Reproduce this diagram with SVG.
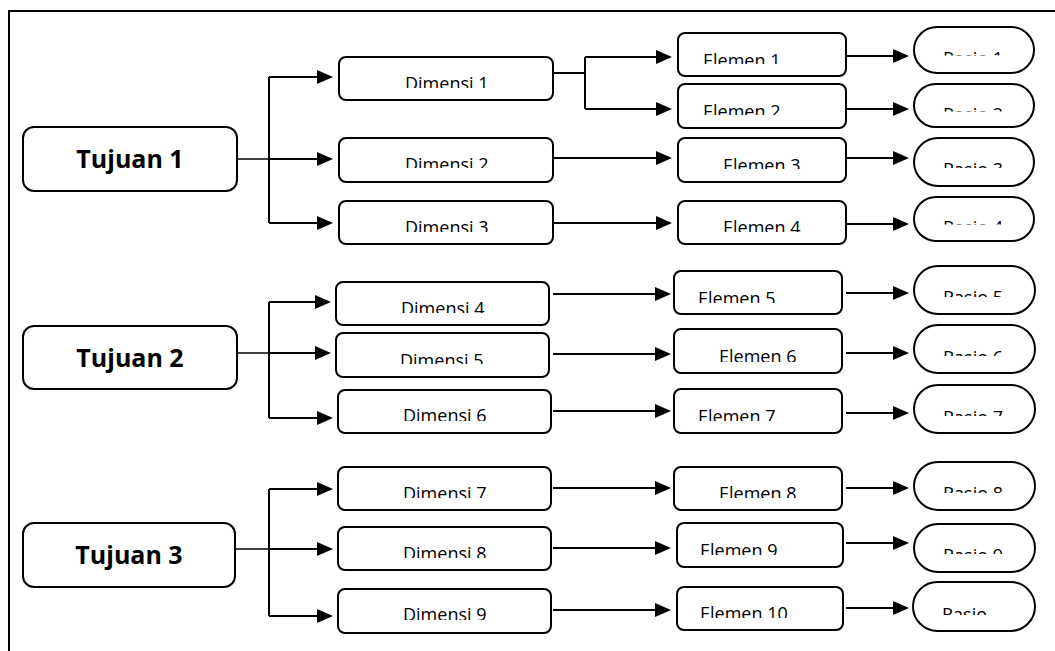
<svg xmlns="http://www.w3.org/2000/svg" width="1055" height="651" viewBox="0 0 1055 651">
<style>
.box{fill:#fff;stroke:#000;stroke-width:2}
.t{font-family:"Open Sans","DejaVu Sans",sans-serif;font-size:18px;fill:#000}
.tb{font-family:"Open Sans","DejaVu Sans",sans-serif;font-size:25px;font-weight:bold;fill:#000;text-anchor:middle}
.c{fill:none;stroke:#000;stroke-width:2}
.c1{fill:none;stroke:#000;stroke-width:1.5}
.a{fill:none;stroke:#000;stroke-width:2;marker-end:url(#ah)}
</style>
<defs>
<marker id="ah" markerUnits="userSpaceOnUse" markerWidth="16" markerHeight="14" refX="14" refY="7" orient="auto"><path d="M0,0 L16,7 L0,14 z" fill="#000"/></marker>
<clipPath id="cD1"><rect x="339" y="57" width="214" height="31"/></clipPath>
<clipPath id="cD2"><rect x="339" y="138" width="214" height="30"/></clipPath>
<clipPath id="cD3"><rect x="339" y="201" width="214" height="31"/></clipPath>
<clipPath id="cD4"><rect x="336" y="282" width="213" height="31"/></clipPath>
<clipPath id="cD5"><rect x="336" y="333" width="213" height="31"/></clipPath>
<clipPath id="cD6"><rect x="338" y="390" width="213" height="31"/></clipPath>
<clipPath id="cD7"><rect x="338" y="467" width="213" height="31"/></clipPath>
<clipPath id="cD8"><rect x="338" y="527" width="213" height="31"/></clipPath>
<clipPath id="cD9"><rect x="338" y="589" width="213" height="31"/></clipPath>
<clipPath id="cE1"><rect x="678" y="33" width="168" height="31"/></clipPath>
<clipPath id="cE2"><rect x="678" y="84" width="168" height="31"/></clipPath>
<clipPath id="cE3"><rect x="678" y="138" width="168" height="31"/></clipPath>
<clipPath id="cE4"><rect x="678" y="201" width="168" height="31"/></clipPath>
<clipPath id="cE5"><rect x="674" y="271" width="168" height="32"/></clipPath>
<clipPath id="cE6"><rect x="674" y="329" width="168" height="33"/></clipPath>
<clipPath id="cE7"><rect x="674" y="389" width="168" height="32"/></clipPath>
<clipPath id="cE8"><rect x="674" y="467" width="168" height="31"/></clipPath>
<clipPath id="cE9"><rect x="677" y="523" width="166" height="32"/></clipPath>
<clipPath id="cE10"><rect x="677" y="587" width="166" height="31"/></clipPath>
<clipPath id="cR1"><rect x="914" y="27" width="120" height="28.5"/></clipPath>
<clipPath id="cR2"><rect x="914" y="84" width="120" height="27.5"/></clipPath>
<clipPath id="cR3"><rect x="914" y="138" width="120" height="30"/></clipPath>
<clipPath id="cR4"><rect x="914" y="197" width="120" height="27.5"/></clipPath>
<clipPath id="cR5"><rect x="914" y="266" width="121" height="31"/></clipPath>
<clipPath id="cR6"><rect x="914" y="325" width="121" height="31"/></clipPath>
<clipPath id="cR7"><rect x="914" y="385" width="121" height="31"/></clipPath>
<clipPath id="cR8"><rect x="914" y="462" width="121" height="31"/></clipPath>
<clipPath id="cR9"><rect x="914" y="524" width="121" height="30"/></clipPath>
<clipPath id="cR10"><rect x="913" y="582" width="122" height="33"/></clipPath>
</defs>
<rect width="1055" height="651" fill="#fff"/>
<path d="M9,651 V11 H1055" fill="none" stroke="#000" stroke-width="2"/>

<g id="connectors">
<path class="c1" d="M237,159 H269"/>
<path class="a" d="M269,159 H331"/>
<path class="c" d="M269,77 V223"/>
<path class="a" d="M269,77 H331"/>
<path class="a" d="M269,223 H331"/>
<path class="c" d="M553,73 H585 M585,57 V109"/>
<path class="a" d="M585,57 H670"/>
<path class="a" d="M585,109 H670"/>
<path class="a" d="M553,158 H670"/>
<path class="a" d="M553,223 H670"/>
<path class="a" d="M846,56 H907"/>
<path class="a" d="M846,109 H907"/>
<path class="a" d="M846,158 H907"/>
<path class="a" d="M846,224 H907"/>

<path class="c1" d="M237,353 H269"/>
<path class="a" d="M269,353 H329"/>
<path class="c" d="M269,302 V418"/>
<path class="a" d="M269,302 H329"/>
<path class="a" d="M269,418 H331"/>
<path class="a" d="M553,294 H669"/>
<path class="a" d="M553,354 H669"/>
<path class="a" d="M553,411 H669"/>
<path class="a" d="M846,293 H907"/>
<path class="a" d="M846,353 H907"/>
<path class="a" d="M846,413 H907"/>

<path class="c1" d="M235,549 H269"/>
<path class="a" d="M269,549 H331"/>
<path class="c" d="M269,489 V616"/>
<path class="a" d="M269,489 H331"/>
<path class="a" d="M269,616 H331"/>
<path class="a" d="M553,488 H669"/>
<path class="a" d="M553,548 H669"/>
<path class="a" d="M553,610 H669"/>
<path class="a" d="M846,488 H907"/>
<path class="a" d="M846,543 H907"/>
<path class="a" d="M846,608 H907"/>
</g>

<g id="tujuan1"><rect class="box" x="23" y="127" width="214" height="64" rx="11"/><text class="tb" x="130" y="168">Tujuan 1</text></g>
<g id="tujuan2"><rect class="box" x="23" y="326" width="214" height="63" rx="11"/><text class="tb" x="130" y="367">Tujuan 2</text></g>
<g id="tujuan3"><rect class="box" x="23" y="523" width="212" height="64" rx="11"/><text class="tb" x="129" y="564">Tujuan 3</text></g>

<g id="dimensi1"><rect class="box" x="339" y="57" width="214" height="43" rx="7"/><text class="t" x="405" y="90" clip-path="url(#cD1)">Dimensi 1</text></g>
<g id="dimensi2"><rect class="box" x="339" y="138" width="214" height="44" rx="7"/><text class="t" x="405" y="171" clip-path="url(#cD2)">Dimensi 2</text></g>
<g id="dimensi3"><rect class="box" x="339" y="201" width="214" height="43" rx="7"/><text class="t" x="405" y="234" clip-path="url(#cD3)">Dimensi 3</text></g>
<g id="dimensi4"><rect class="box" x="336" y="282" width="213" height="43" rx="7"/><text class="t" x="401" y="315" clip-path="url(#cD4)">Dimensi 4</text></g>
<g id="dimensi5"><rect class="box" x="336" y="333" width="213" height="44" rx="7"/><text class="t" x="400" y="367" clip-path="url(#cD5)">Dimensi 5</text></g>
<g id="dimensi6"><rect class="box" x="338" y="390" width="213" height="43" rx="7"/><text class="t" x="403" y="422" clip-path="url(#cD6)">Dimensi 6</text></g>
<g id="dimensi7"><rect class="box" x="338" y="467" width="213" height="43" rx="7"/><text class="t" x="403" y="500" clip-path="url(#cD7)">Dimensi 7</text></g>
<g id="dimensi8"><rect class="box" x="338" y="527" width="213" height="43" rx="7"/><text class="t" x="403" y="560" clip-path="url(#cD8)">Dimensi 8</text></g>
<g id="dimensi9"><rect class="box" x="338" y="589" width="213" height="44" rx="7"/><text class="t" x="403" y="621" clip-path="url(#cD9)">Dimensi 9</text></g>

<g id="elemen1"><rect class="box" x="678" y="33" width="168" height="43" rx="7"/><text class="t" x="703" y="67" clip-path="url(#cE1)">Elemen 1</text></g>
<g id="elemen2"><rect class="box" x="678" y="84" width="168" height="44" rx="7"/><text class="t" x="703" y="118" clip-path="url(#cE2)">Elemen 2</text></g>
<g id="elemen3"><rect class="box" x="678" y="138" width="168" height="44" rx="7"/><text class="t" x="723" y="172" clip-path="url(#cE3)">Elemen 3</text></g>
<g id="elemen4"><rect class="box" x="678" y="201" width="168" height="43" rx="7"/><text class="t" x="723" y="234" clip-path="url(#cE4)">Elemen 4</text></g>
<g id="elemen5"><rect class="box" x="674" y="271" width="168" height="43" rx="7"/><text class="t" x="698" y="305" clip-path="url(#cE5)">Elemen 5</text></g>
<g id="elemen6"><rect class="box" x="674" y="329" width="168" height="44" rx="7"/><text class="t" x="719" y="363" clip-path="url(#cE6)">Elemen 6</text></g>
<g id="elemen7"><rect class="box" x="674" y="389" width="168" height="44" rx="7"/><text class="t" x="698" y="423" clip-path="url(#cE7)">Elemen 7</text></g>
<g id="elemen8"><rect class="box" x="674" y="467" width="168" height="43" rx="7"/><text class="t" x="719" y="500" clip-path="url(#cE8)">Elemen 8</text></g>
<g id="elemen9"><rect class="box" x="677" y="523" width="166" height="44" rx="7"/><text class="t" x="700" y="557" clip-path="url(#cE9)">Elemen 9</text></g>
<g id="elemen10"><rect class="box" x="677" y="587" width="166" height="43" rx="7"/><text class="t" x="700" y="620" clip-path="url(#cE10)">Elemen 10</text></g>

<g id="rasio1"><rect class="box" x="914" y="27" width="120" height="46" rx="23"/><text class="t" x="943" y="65" clip-path="url(#cR1)">Rasio 1</text></g>
<g id="rasio2"><rect class="box" x="914" y="84" width="120" height="43" rx="21.5"/><text class="t" x="943" y="121" clip-path="url(#cR2)">Rasio 2</text></g>
<g id="rasio3"><rect class="box" x="914" y="138" width="120" height="48" rx="24"/><text class="t" x="943" y="176" clip-path="url(#cR3)">Rasio 3</text></g>
<g id="rasio4"><rect class="box" x="914" y="197" width="120" height="44" rx="22"/><text class="t" x="943" y="234" clip-path="url(#cR4)">Rasio 4</text></g>
<g id="rasio5"><rect class="box" x="914" y="266" width="121" height="48" rx="24"/><text class="t" x="943" y="304" clip-path="url(#cR5)">Rasio 5</text></g>
<g id="rasio6"><rect class="box" x="914" y="325" width="121" height="48" rx="24"/><text class="t" x="943" y="364" clip-path="url(#cR6)">Rasio 6</text></g>
<g id="rasio7"><rect class="box" x="914" y="385" width="121" height="48" rx="24"/><text class="t" x="943" y="424" clip-path="url(#cR7)">Rasio 7</text></g>
<g id="rasio8"><rect class="box" x="914" y="462" width="121" height="48" rx="24"/><text class="t" x="943" y="500" clip-path="url(#cR8)">Rasio 8</text></g>
<g id="rasio9"><rect class="box" x="914" y="524" width="121" height="48" rx="24"/><text class="t" x="943" y="562" clip-path="url(#cR9)">Rasio 9</text></g>
<g id="rasio10"><rect class="box" x="913" y="582" width="122" height="49" rx="24.5"/><text class="t" x="942" y="621" clip-path="url(#cR10)">Rasio</text></g>
</svg>
